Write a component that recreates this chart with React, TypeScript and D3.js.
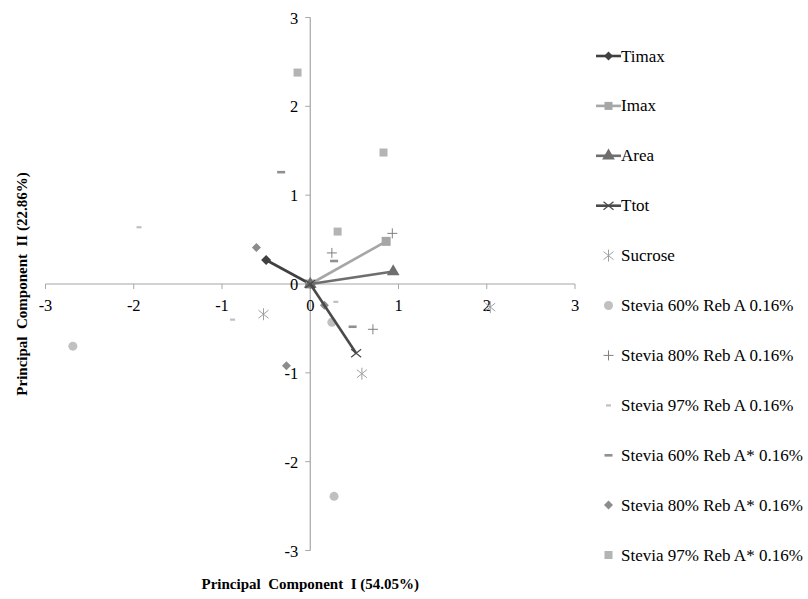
import React from "react";
import * as d3 from "d3";

// loading vectors (drawn as lines from the origin)
const vectorNames = ["Timax", "Imax", "Area", "Ttot"];
const vectorX = [-0.5, 0.86, 0.94, 0.52];
const vectorY = [0.27, 0.48, 0.14, -0.78];

// sample scores
const sampleNames = [
  "Sucrose",
  "Stevia 60% Reb A 0.16%",
  "Stevia 80% Reb A 0.16%",
  "Stevia 97% Reb A 0.16%",
  "Stevia 60% Reb A* 0.16%",
  "Stevia 80% Reb A* 0.16%",
  "Stevia 97% Reb A* 0.16%",
];
const sucroseX = [-0.53, 0.585, 2.04];
const sucroseY = [-0.34, -1.01, -0.26];
const s60X = [-2.69, 0.245, 0.27];
const s60Y = [-0.7, -0.43, -2.39];
const s80X = [0.93, 0.245, 0.71];
const s80Y = [0.57, 0.35, -0.51];
const s97X = [-1.94, -0.88, 0.29];
const s97Y = [0.64, -0.4, -0.2];
const s60sX = [-0.33, 0.27, 0.48];
const s60sY = [1.26, 0.26, -0.48];
const s80sX = [-0.61, -0.27, 0.16];
const s80sY = [0.41, -0.92, -0.24];
const s97sX = [-0.144, 0.83, 0.31];
const s97sY = [2.38, 1.48, 0.59];

const ticks = [-3, -2, -1, 0, 1, 2, 3];

const sampleXs = [sucroseX, s60X, s80X, s97X, s60sX, s80sX, s97sX];
const sampleYs = [sucroseY, s60Y, s80Y, s97Y, s60sY, s80sY, s97sY];

const vectorColors = ["#404040", "#a6a6a6", "#6e6e6e", "#4a4a4a"];
const vectorMarkers = ["diamond", "square", "triangle", "cross"];
const sampleColors = ["#a0a0a0", "#c0c0c0", "#808080", "#c0c0c0", "#909090", "#8c8c8c", "#b4b4b4"];
const sampleMarkers = ["star", "circle", "plus", "dashS", "dashM", "diamond", "square"];

const font = "Times New Roman, Liberation Serif, Tinos, DejaVu Serif, Noto Serif, serif";

const Marker = ({ type, x, y, color, big = false }) => {
  const t = `translate(${x},${y})`;
  if (type === "circle") return <circle cx={x} cy={y} r={4.5} fill={color} />;
  if (type === "square") {
    const s = big ? 9 : 8;
    return <rect x={x - s / 2} y={y - s / 2} width={s} height={s} fill={color} />;
  }
  if (type === "diamond") {
    const s = big ? 5 : 4.5;
    return <path transform={t} d={`M0,${-s}L${s},0L0,${s}L${-s},0Z`} fill={color} />;
  }
  if (type === "triangle")
    return <path transform={t} d={d3.symbol(d3.symbolTriangle, 70)()} fill={color} />;
  if (type === "plus")
    return <path transform={t} d="M-5,0H5M0,-5V5" stroke={color} strokeWidth={1} fill="none" />;
  if (type === "cross")
    return <path transform={t} d="M-5,-4L5,4M-5,4L5,-4" stroke={color} strokeWidth={1.2} fill="none" />;
  if (type === "star")
    return (
      <path
        transform={t}
        d="M-5,-4L5,4M-5,4L5,-4M0,-6V6"
        stroke={color}
        strokeWidth={1}
        fill="none"
      />
    );
  if (type === "dashS") return <rect x={x - 2.5} y={y - 1} width={5} height={2.2} fill={color} />;
  if (type === "dashM") return <rect x={x - 4} y={y - 1.2} width={8} height={2.6} fill={color} />;
  return null;
};

export default function App() {
  const width = 808;
  const height = 599;

  const x = d3.scaleLinear().domain([-3, 3]).range([45.5, 575]);
  const y = d3.scaleLinear().domain([-3, 3]).range([550.5, 17.5]);
  const x0 = x(0);
  const y0 = y(0);
  const axisColor = "#a6a6a6";

  const legendItems = [
    ...vectorNames.map((n, i) => ({ name: n, color: vectorColors[i], marker: vectorMarkers[i], line: true })),
    ...sampleNames.map((n, i) => ({ name: n, color: sampleColors[i], marker: sampleMarkers[i], line: false })),
  ];

  return (
    <svg
      width={width}
      height={height}
      style={{ position: "absolute", left: 0, top: 0, background: "#fff" }}
    >
      {/* axes */}
      <line x1={x(-3)} x2={x(3)} y1={y0} y2={y0} stroke={axisColor} strokeWidth={1.2} />
      <line x1={x0} x2={x0} y1={y(3)} y2={y(-3)} stroke={axisColor} strokeWidth={1.2} />
      {ticks.map((t) => (
        <g key={"xt" + t}>
          <line x1={x(t)} x2={x(t)} y1={y0} y2={y0 + 5} stroke={axisColor} strokeWidth={1} />
          <text x={x(t)} y={y0 + 27} textAnchor="middle" fontSize={16.5} fill="#000" fontFamily={font}>
            {t}
          </text>
        </g>
      ))}
      {ticks.map((t) => (
        <g key={"yt" + t}>
          <line x1={x0 - 5} x2={x0} y1={y(t)} y2={y(t)} stroke={axisColor} strokeWidth={1} />
          <text x={x0 - 12} y={y(t) + 6} textAnchor="end" fontSize={16.5} fill="#000" fontFamily={font}>
            {t}
          </text>
        </g>
      ))}

      {/* sample scores */}
      {sampleXs.map((xs, si) =>
        xs.map((v, j) => (
          <Marker
            key={`s${si}-${j}`}
            type={sampleMarkers[si]}
            x={x(v)}
            y={y(sampleYs[si][j])}
            color={sampleColors[si]}
          />
        ))
      )}

      {/* loading vectors */}
      {vectorNames.map((n, i) => (
        <g key={n}>
          <line
            x1={x0}
            y1={y0}
            x2={x(vectorX[i])}
            y2={y(vectorY[i])}
            stroke={vectorColors[i]}
            strokeWidth={2.6}
          />
          <Marker type={vectorMarkers[i]} x={x0} y={y0} color={vectorColors[i]} big />
          <Marker type={vectorMarkers[i]} x={x(vectorX[i])} y={y(vectorY[i])} color={vectorColors[i]} big />
        </g>
      ))}

      {/* axis titles */}
      <text
        x={x0}
        y={589}
        textAnchor="middle"
        fontSize={15}
        fontWeight="bold"
        fontFamily={font}
        style={{ whiteSpace: "pre" }}
      >
        {"Principal  Component  I (54.05%)"}
      </text>
      <text
        transform={`translate(27,${y0}) rotate(-90)`}
        textAnchor="middle"
        fontSize={15}
        fontWeight="bold"
        fontFamily={font}
        style={{ whiteSpace: "pre" }}
      >
        {"Principal  Component  II (22.86%)"}
      </text>

      {/* legend */}
      {legendItems.map((d, i) => {
        const ly = 56 + i * 49.9;
        return (
          <g key={d.name}>
            {d.line && <line x1={596} x2={621} y1={ly} y2={ly} stroke={d.color} strokeWidth={2.6} />}
            <Marker type={d.marker} x={608.5} y={ly} color={d.color} />
            <text x={621} y={ly + 5.5} fontSize={17} fill="#000" fontFamily={font}>
              {d.name}
            </text>
          </g>
        );
      })}
    </svg>
  );
}
